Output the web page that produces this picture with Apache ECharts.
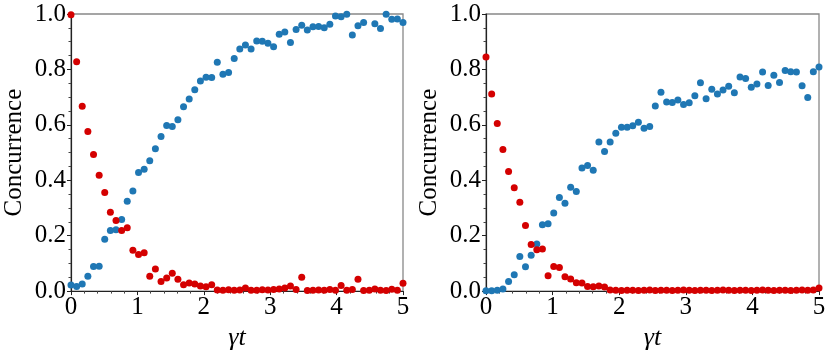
<!DOCTYPE html>
<html>
<head>
<meta charset="utf-8">
<script src="https://cdn.jsdelivr.net/npm/echarts@6/dist/echarts.min.js"></script>
<style>
  html, body { margin: 0; padding: 0; background: #fff; }
  #chart { width: 831px; height: 356px; }
</style>
</head>
<body>
<div id="chart"></div>
<script>
// time grid, gamma*t (60 samples from 0 to 5)
const tValues = [
  0, 0.085, 0.169, 0.254, 0.339, 0.424, 0.508, 0.593, 0.678, 0.763,
  0.847, 0.932, 1.017, 1.102, 1.186, 1.271, 1.356, 1.441, 1.525, 1.610,
  1.695, 1.780, 1.864, 1.949, 2.034, 2.119, 2.203, 2.288, 2.373, 2.458,
  2.542, 2.627, 2.712, 2.797, 2.881, 2.966, 3.051, 3.136, 3.220, 3.305,
  3.390, 3.475, 3.559, 3.644, 3.729, 3.814, 3.898, 3.983, 4.068, 4.153,
  4.237, 4.322, 4.407, 4.492, 4.576, 4.661, 4.746, 4.831, 4.915, 5
];

// left panel
const leftBlue = [
  0.022, 0.017, 0.026, 0.054, 0.089, 0.090, 0.187, 0.219, 0.221, 0.258,
  0.324, 0.361, 0.428, 0.440, 0.470, 0.514, 0.558, 0.598, 0.594, 0.618,
  0.665, 0.693, 0.727, 0.758, 0.772, 0.771, 0.826, 0.783, 0.789, 0.839,
  0.874, 0.888, 0.874, 0.903, 0.902, 0.894, 0.882, 0.927, 0.935, 0.897,
  0.944, 0.959, 0.942, 0.954, 0.955, 0.950, 0.963, 0.993, 0.990, 0.999,
  0.924, 0.958, 0.969, 1.02, 0.965, 0.948, 0.999, 0.981, 0.982, 0.969
];
const leftRed = [
  0.997, 0.828, 0.667, 0.576, 0.493, 0.418, 0.356, 0.285, 0.255, 0.219,
  0.229, 0.147, 0.132, 0.138, 0.054, 0.080, 0.035, 0.047, 0.064, 0.043,
  0.023, 0.029, 0.026, 0.018, 0.016, 0.023, 0.004, 0.003, 0.005, 0.003,
  0.004, 0.011, 0.003, 0.003, 0.005, 0.004, 0.006, 0.008, 0.011, 0.018,
  0.006, 0.050, 0.002, 0.003, 0.004, 0.003, 0.006, 0.003, 0.020, 0.003,
  0.006, 0.043, 0.002, 0.003, 0.008, 0.003, 0.002, 0.007, 0.003, 0.028
];

// right panel
const rightBlue = [
  0.001, 0.001, 0.003, 0.008, 0.035, 0.059, 0.125, 0.088, 0.129, 0.170,
  0.239, 0.243, 0.282, 0.338, 0.317, 0.375, 0.359, 0.444, 0.453, 0.436,
  0.538, 0.504, 0.538, 0.570, 0.591, 0.591, 0.597, 0.609, 0.588, 0.594,
  0.668, 0.718, 0.682, 0.681, 0.690, 0.673, 0.680, 0.705, 0.752, 0.694,
  0.728, 0.711, 0.726, 0.739, 0.716, 0.773, 0.767, 0.736, 0.747, 0.791,
  0.742, 0.779, 0.753, 0.796, 0.792, 0.791, 0.741, 0.699, 0.792, 0.809
];
const rightRed = [
  0.845, 0.711, 0.605, 0.511, 0.432, 0.373, 0.321, 0.237, 0.168, 0.149,
  0.152, 0.055, 0.089, 0.085, 0.052, 0.044, 0.030, 0.029, 0.017, 0.016,
  0.018, 0.015, 0.004, 0.003, 0.002, 0.003, 0.003, 0.002, 0.003, 0.004,
  0.002, 0.003, 0.003, 0.002, 0.003, 0.004, 0.003, 0.002, 0.003, 0.003,
  0.002, 0.003, 0.004, 0.003, 0.002, 0.003, 0.003, 0.002, 0.003, 0.004,
  0.003, 0.002, 0.003, 0.003, 0.002, 0.003, 0.004, 0.003, 0.004, 0.011
];

const yTicks = [0, 0.2, 0.4, 0.6, 0.8, 1.0];
const xTicks = [0, 1, 2, 3, 4, 5];

const font = "'Liberation Serif', 'Times New Roman', serif";
const blue = "#1f77b4";
const red = "#d40000";

function pairs(ys) {
  return tValues.map((t, i) => [t, ys[i]]);
}

function xAxisFor(idx) {
  return {
    gridIndex: idx,
    type: "value",
    min: xTicks[0],
    max: xTicks[xTicks.length - 1],
    interval: 1,
    name: "γt",
    nameLocation: "middle",
    nameGap: 25,
    nameTextStyle: { fontFamily: font, fontSize: 26, fontStyle: "italic", color: "#000" },
    axisLine: { onZero: false, lineStyle: { color: "#222", width: 1.2 } },
    axisTick: { length: 4, lineStyle: { color: "#222" } },
    minorTick: { show: true, splitNumber: 5, length: 2.5, lineStyle: { color: "#444" } },
    axisLabel: { fontFamily: font, fontSize: 25, color: "#000", margin: 4 },
    splitLine: { show: false },
  };
}

function yAxisFor(idx) {
  return {
    gridIndex: idx,
    type: "value",
    min: yTicks[0],
    max: yTicks[yTicks.length - 1],
    interval: 0.2,
    name: "Concurrence",
    nameLocation: "middle",
    nameGap: 44,
    nameTextStyle: { fontFamily: font, fontSize: 25, color: "#000" },
    axisLine: { onZero: false, lineStyle: { color: "#222", width: 1.2 } },
    axisTick: { length: 4, lineStyle: { color: "#222" } },
    minorTick: { show: true, splitNumber: 4, length: 2.5, lineStyle: { color: "#444" } },
    axisLabel: {
      fontFamily: font, fontSize: 25, color: "#000", margin: 5,
      formatter: (v) => v.toFixed(1),
    },
    splitLine: { show: false },
  };
}

function dots(idx, ys, color) {
  return {
    type: "scatter",
    xAxisIndex: idx,
    yAxisIndex: idx,
    data: pairs(ys),
    symbolSize: 7,
    clip: true,
    itemStyle: { color: color, opacity: 1 },
    emphasis: { disabled: true },
  };
}

const chart = echarts.init(document.getElementById("chart"), null, { renderer: "canvas" });
chart.setOption({
  animation: false,
  backgroundColor: "#fff",
  grid: [
    { left: 71, right: 428, top: 14, bottom: 64, show: true, borderColor: "#888", borderWidth: 1.3 },
    { left: 486, right: 12, top: 14, bottom: 64, show: true, borderColor: "#888", borderWidth: 1.3 },
  ],
  xAxis: [xAxisFor(0), xAxisFor(1)],
  yAxis: [yAxisFor(0), yAxisFor(1)],
  series: [
    dots(0, leftBlue, blue),
    dots(0, leftRed, red),
    dots(1, rightBlue, blue),
    dots(1, rightRed, red),
  ],
});
</script>
</body>
</html>
